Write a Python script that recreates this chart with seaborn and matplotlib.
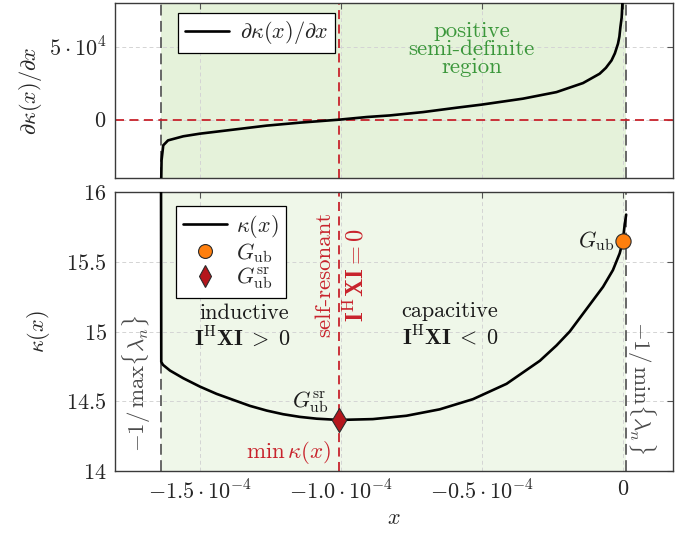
import matplotlib
matplotlib.use("Agg")
import matplotlib.pyplot as plt
import seaborn as sns
import pandas as pd
from matplotlib.lines import Line2D

# ---- data -------------------------------------------------------------
# kappa(x) on the positive semi-definite interval
kappa_x = [-1.637e-4, -1.636e-4, -1.630e-4, -1.605e-4, -1.558e-4, -1.499e-4,
           -1.440e-4, -1.381e-4, -1.322e-4, -1.262e-4, -1.204e-4, -1.145e-4,
           -1.085e-4, -1.006e-4, -0.886e-4, -0.767e-4, -0.649e-4, -0.531e-4,
           -0.412e-4, -0.294e-4, -0.235e-4, -0.188e-4, -0.129e-4, -0.070e-4,
           -0.035e-4, -0.011e-4, 0.0, 0.0067e-4, 0.012e-4]
kappa_y = [16.30, 14.782, 14.761, 14.720, 14.665, 14.605,
           14.553, 14.510, 14.467, 14.433, 14.407, 14.388,
           14.375, 14.366, 14.372, 14.396, 14.442, 14.515,
           14.625, 14.790, 14.900, 15.000, 15.160, 15.320,
           15.440, 15.560, 15.646, 15.766, 15.838]

# derivative d kappa / dx
dk_x = [-1.6365e-4, -1.635e-4, -1.629e-4, -1.612e-4, -1.558e-4, -1.499e-4,
        -1.381e-4, -1.263e-4, -1.145e-4, -1.006e-4, -0.908e-4, -0.826e-4,
        -0.708e-4, -0.589e-4, -0.501e-4, -0.354e-4, -0.235e-4, -0.141e-4,
        -0.082e-4, -0.060e-4, -0.040e-4, -0.028e-4, -0.017e-4, -0.012e-4,
        -0.0085e-4, -0.004e-4, -0.0014e-4, -0.0005e-4]
dk_y = [-4.6e4, -2.79e4, -1.76e4, -1.42e4, -1.14e4, -0.96e4,
        -0.685e4, -0.41e4, -0.205e4, 0.0, 0.18e4, 0.29e4,
        0.52e4, 0.82e4, 1.03e4, 1.44e4, 1.89e4, 2.51e4,
        3.15e4, 3.55e4, 4.06e4, 4.55e4, 5.21e4, 5.70e4,
        6.34e4, 7.0e4, 7.95e4, 8.6e4]

x_max_lambda = -1.637e-4   # -1/max{lambda_n}
x_min_lambda = 1.3e-6      # -1/min{lambda_n}
x_sr = -1.006e-4           # self-resonant point
kappa_sr = 14.366
x_ub = 0.0
kappa_ub = 15.646

x_ticks = [-1.5e-4, -1.0e-4, -0.5e-4, 0.0]
x_ticklabels = [r"$-1.5\cdot10^{-4}$", r"$-1.0\cdot10^{-4}$",
                r"$-0.5\cdot10^{-4}$", r"$0$"]
top_yticks = [0.0, 5e4]
top_yticklabels = [r"$0$", r"$5\cdot10^{4}$"]
bot_yticks = [14.0, 14.5, 15.0, 15.5, 16.0]
bot_yticklabels = [r"$14$", r"$14.5$", r"$15$", r"$15.5$", r"$16$"]

# ---- style ------------------------------------------------------------
sns.set_theme(style="white")
plt.rcParams.update({
    "font.family": "serif",
    "font.serif": ["cmr10"],
    "mathtext.fontset": "cm",
    "axes.unicode_minus": False,
    "font.size": 16,
})

GREEN_TOP = "#e5f2da"
GREEN_BOT = "#eff7e9"
GRAY = "#5c5c5c"
RED = "#c8232c"
TXT_GREEN = "#3b973b"
FRAME = "#3a3a3a"

fig = plt.figure(figsize=(6.94, 5.35), dpi=100)
ax_top = fig.add_axes([115 / 694, 1 - 178 / 535, 558 / 694, 175 / 535])
ax_bot = fig.add_axes([115 / 694, 1 - 471 / 535, 558 / 694, 279 / 535])

xlim = (-1.80e-4, 0.178e-4)

for ax, shade in ((ax_top, GREEN_TOP), (ax_bot, GREEN_BOT)):
    ax.axvspan(x_max_lambda, x_min_lambda, color=shade, lw=0, zorder=0.2)
    ax.set_axisbelow(True)
    ax.grid(True, ls=(0, (4, 3)), color="#d4d4d4", lw=0.7)
    ax.axvline(x_max_lambda, color=GRAY, ls=(0, (6, 3)), lw=1.3, zorder=2)
    ax.axvline(x_min_lambda, color=GRAY, ls=(0, (6, 3)), lw=1.3, zorder=2)
    ax.axvline(x_sr, color=RED, ls=(0, (5, 3)), lw=1.3, zorder=2)
    ax.set_xlim(*xlim)
    ax.set_xticks(x_ticks)
    ax.tick_params(direction="in", length=4, width=0.8, color="#555555",
                   top=True, right=True, labelsize=16, pad=6)
    for sp in ax.spines.values():
        sp.set_color(FRAME)
        sp.set_linewidth(1.0)

# ---- top panel: derivative ---------------------------------------------
ax_top.axhline(0.0, color=RED, ls=(0, (5, 3)), lw=1.3, zorder=2)
sns.lineplot(x=dk_x, y=dk_y, ax=ax_top, color="black", lw=1.9,
             sort=False, estimator=None, zorder=4)
ax_top.set_ylim(-4.0e4, 8.0e4)
ax_top.set_yticks(top_yticks)
ax_top.set_yticklabels(top_yticklabels)
ax_top.set_xticklabels([])
ax_top.set_ylabel(r"$\partial\kappa(x)/\partial x$", fontsize=16, labelpad=4)
ax_top.text(-0.535e-4, 4.82e4, "positive\nsemi-definite\nregion",
            color=TXT_GREEN, ha="center", va="center", fontsize=16.5,
            linespacing=0.92)
leg_top = ax_top.legend(
    handles=[Line2D([], [], color="black", lw=1.9)],
    labels=[r"$\partial\kappa(x)/\partial x$"],
    loc="upper left", bbox_to_anchor=(0.113, 0.945), fontsize=16,
    frameon=True, fancybox=False, framealpha=1, edgecolor="black",
    handlelength=2.0, borderpad=0.3, handletextpad=0.5, borderaxespad=0)
leg_top.get_frame().set_linewidth(0.9)

# ---- bottom panel: kappa -----------------------------------------------
sns.lineplot(x=kappa_x, y=kappa_y, ax=ax_bot, color="black", lw=1.9,
             sort=False, estimator=None, zorder=4)
sns.scatterplot(x=[x_ub], y=[kappa_ub], ax=ax_bot, marker="o", s=120,
                color="#ff7f0e", edgecolor="#2b2b2b", linewidth=0.8, zorder=6)
sns.scatterplot(x=[x_sr], y=[kappa_sr], ax=ax_bot, marker="d", s=150,
                color="#b5161c", edgecolor="#2b2b2b", linewidth=0.8, zorder=6)
ax_bot.set_ylim(14.0, 16.0)
ax_bot.set_yticks(bot_yticks)
ax_bot.set_yticklabels(bot_yticklabels)
ax_bot.set_xticklabels(x_ticklabels)
ax_bot.set_ylabel(r"$\kappa(x)$", fontsize=16, labelpad=10)
ax_bot.set_xlabel(r"$x$", fontsize=16, labelpad=4)

ax_bot.text(-1.344e-4, 15.134, "inductive", ha="center", va="center",
            fontsize=16, color="#1a1a1a")
ax_bot.text(-1.350e-4, 14.962, r"$\mathbf{I}^{\mathrm{H}}\mathbf{XI}\;>\;0$",
            ha="center", va="center", fontsize=16, color="#1a1a1a")
ax_bot.text(-0.613e-4, 15.144, "capacitive", ha="center", va="center",
            fontsize=16, color="#1a1a1a")
ax_bot.text(-0.613e-4, 14.962, r"$\mathbf{I}^{\mathrm{H}}\mathbf{XI}\;<\;0$",
            ha="center", va="center", fontsize=16, color="#1a1a1a")
ax_bot.text(-1.058e-4, 15.407, "self-resonant", rotation=90, ha="center",
            va="center", fontsize=16.5, color=RED)
ax_bot.text(-0.945e-4, 15.407, r"$\mathbf{I}^{\mathrm{H}}\mathbf{XI}=0$",
            rotation=90, ha="center", va="center", fontsize=17.5, color=RED)
ax_bot.text(-1.723e-4, 14.632, r"$-1/\,\max\{\lambda_n\}$", rotation=90,
            ha="center", va="center", fontsize=16.5, color="#4a4a4a")
ax_bot.text(0.066e-4, 14.596, r"$-1/\,\min\{\lambda_n\}$", rotation=-90,
            ha="center", va="center", fontsize=16.5, color="#4a4a4a")
ax_bot.text(-0.030e-4, kappa_ub, r"$G_{\mathrm{ub}}$", ha="right",
            va="center", fontsize=16, color="#1a1a1a")
ax_bot.text(-1.109e-4, 14.495, r"$G_{\mathrm{ub}}^{\mathrm{sr}}$",
            ha="center", va="center", fontsize=16, color="#1a1a1a")
ax_bot.text(-1.034e-4, 14.13, r"$\min\,\kappa(x)$", ha="right",
            va="center", fontsize=16.5, color=RED)

leg_bot = ax_bot.legend(
    handles=[Line2D([], [], color="black", lw=1.9),
             Line2D([], [], ls="none", marker="o", ms=10,
                    mfc="#ff7f0e", mec="#2b2b2b", mew=0.8),
             Line2D([], [], ls="none", marker="d", ms=11,
                    mfc="#b5161c", mec="#2b2b2b", mew=0.8)],
    labels=[r"$\kappa(x)$", r"$G_{\mathrm{ub}}$",
            r"$G_{\mathrm{ub}}^{\mathrm{sr}}$"],
    loc="upper left", bbox_to_anchor=(0.11, 0.95), fontsize=16,
    frameon=True, fancybox=False, framealpha=1, edgecolor="black",
    handlelength=2.0, borderpad=0.3, handletextpad=0.4, labelspacing=0.05,
    borderaxespad=0)
leg_bot.get_frame().set_linewidth(0.9)

fig.savefig("out.png", dpi=100)
